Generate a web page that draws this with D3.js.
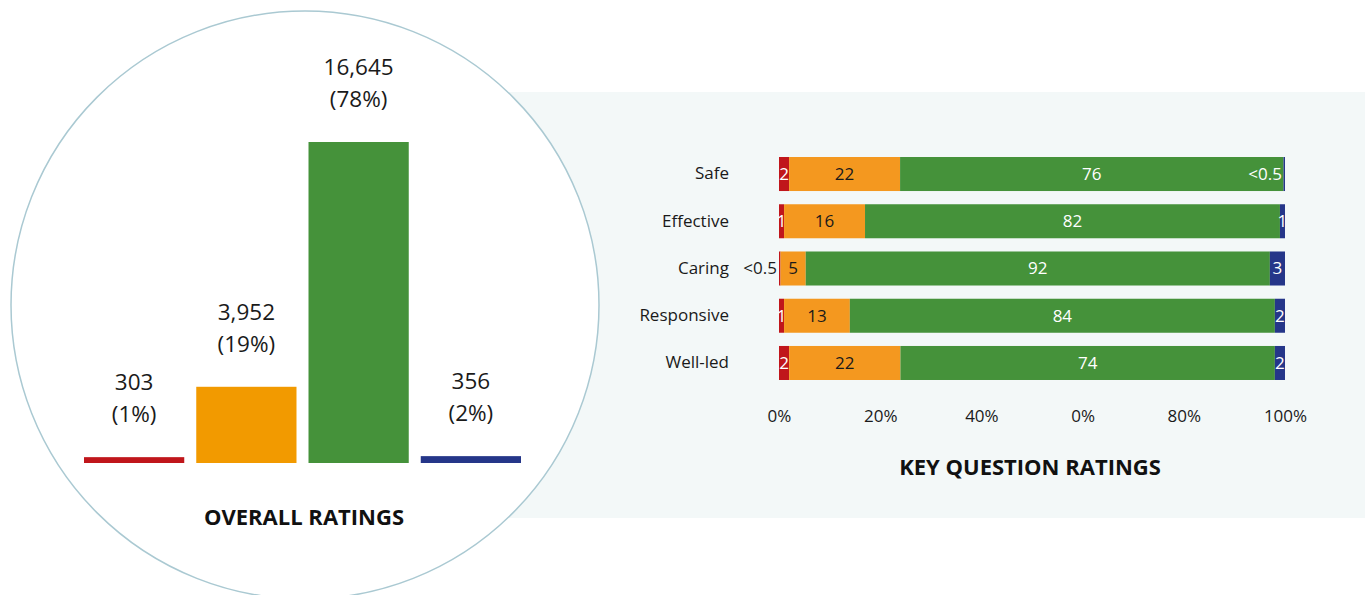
<!DOCTYPE html>
<html lang="en">
    <head>
        <meta charset="utf-8">
        <title>Overall and key question ratings</title>
        <script type="text/javascript" src="https://d3js.org/d3.v7.min.js"></script>
        <style type="text/css">
            body { margin: 0; background: #ffffff; }
            svg { display: block; font-family: "Open Sans", "Noto Sans", sans-serif; }
        </style>
    </head>
    <body>
        <script type="text/javascript">
            // Overall ratings (left, inside the circle)
            var overallCats = ["Inadequate", "Requires improvement", "Good", "Outstanding"];
            var overallCounts = [303, 3952, 16645, 356];
            var overallPct = ["1%", "19%", "78%", "2%"];

            // Key question ratings (right, stacked %)
            var questions = ["Safe", "Effective", "Caring", "Responsive", "Well-led"];
            var inadequate = [2, 1, 0.3, 1, 2];
            var requiresImprovement = [22, 16, 5, 13, 22];
            var good = [76, 82, 92, 84, 74];
            var outstanding = [0.3, 1, 3, 2, 2];

            var tickValues = [0, 0.2, 0.4, 0.6, 0.8, 1];
            var tickLabels = ["0%", "20%", "40%", "0%", "80%", "100%"];

            var colors = ["#c0161b", "#f29a00", "#45923a", "#253689"];
            var stackColors = ["#c0161b", "#f4981f", "#45923a", "#253689"];
            var keys = ["inadequate", "requiresImprovement", "good", "outstanding"];

            var w = 1370;
            var h = 595;

            var svg = d3.select("body")
                        .append("svg")
                        .attr("width", w)
                        .attr("height", h);

            // panel background for the right chart
            svg.append("rect")
                .attr("x", 400)
                .attr("y", 92)
                .attr("width", 965)
                .attr("height", 426)
                .attr("fill", "#f3f8f8");

            // big circle
            svg.append("circle")
                .attr("cx", 305)
                .attr("cy", 305)
                .attr("r", 294)
                .attr("fill", "#ffffff")
                .attr("stroke", "#aac9d2")
                .attr("stroke-width", 1.5);

            // ---- left: overall ratings ----
            var xBand = d3.scaleBand()
                .domain(overallCats)
                .range([78, 527])
                .paddingInner(0.107)
                .paddingOuter(0.0535);

            var yLin = d3.scaleLinear()
                .domain([0, d3.max(overallCounts)])
                .range([463, 142]);

            var overall = overallCats.map(function(c, i) {
                return { cat: c, count: overallCounts[i], pct: overallPct[i], color: colors[i] };
            });

            svg.selectAll("rect.overall")
                .data(overall)
                .enter()
                .append("rect")
                .attr("class", "overall")
                .attr("x", function(d) { return xBand(d.cat); })
                .attr("y", function(d) { return yLin(d.count); })
                .attr("width", xBand.bandwidth())
                .attr("height", function(d) { return yLin(0) - yLin(d.count); })
                .attr("fill", function(d) { return d.color; });

            var fmt = d3.format(",");
            var lbl = svg.selectAll("text.overall")
                .data(overall)
                .enter()
                .append("text")
                .attr("class", "overall")
                .attr("text-anchor", "middle")
                .attr("font-size", "22.5px")
                .attr("fill", "#1a1a1a");
            lbl.append("tspan")
                .attr("x", function(d) { return xBand(d.cat) + xBand.bandwidth() / 2; })
                .attr("y", function(d) { return yLin(d.count) - 67; })
                .text(function(d) { return fmt(d.count); });
            lbl.append("tspan")
                .attr("x", function(d) { return xBand(d.cat) + xBand.bandwidth() / 2; })
                .attr("y", function(d) { return yLin(d.count) - 35; })
                .text(function(d) { return "(" + d.pct + ")"; });

            svg.append("text")
                .attr("x", 304)
                .attr("y", 525)
                .attr("text-anchor", "middle")
                .attr("font-size", "22px")
                .attr("font-weight", "bold")
                .attr("fill", "#111")
                .text("OVERALL RATINGS");

            // ---- right: key question ratings ----
            var rows = questions.map(function(q, i) {
                return {
                    question: q,
                    inadequate: inadequate[i],
                    requiresImprovement: requiresImprovement[i],
                    good: good[i],
                    outstanding: outstanding[i]
                };
            });

            var series = d3.stack().keys(keys).offset(d3.stackOffsetExpand)(rows);

            var x = d3.scaleLinear().domain([0, 1]).range([779, 1285]);
            var y = d3.scaleBand()
                .domain(questions)
                .range([150.4, 386.6])
                .paddingInner(0.28)
                .paddingOuter(0.14);

            var groups = svg.selectAll("g.series")
                .data(series)
                .enter()
                .append("g")
                .attr("class", "series")
                .attr("fill", function(d, i) { return stackColors[i]; });

            groups.selectAll("rect")
                .data(function(d) { return d; })
                .enter()
                .append("rect")
                .attr("x", function(d) { return x(d[0]); })
                .attr("y", function(d) { return y(d.data.question); })
                .attr("width", function(d) { return x(d[1]) - x(d[0]); })
                .attr("height", y.bandwidth());

            // segment labels
            series.forEach(function(s, si) {
                svg.append("g").selectAll("text")
                    .data(s)
                    .enter()
                    .append("text")
                    .attr("font-size", "17px")
                    .attr("dy", "0.35em")
                    .attr("y", function(d) { return y(d.data.question) + y.bandwidth() / 2; })
                    .attr("x", function(d) {
                        var v = d.data[s.key];
                        if (v < 0.5 && si === 0) return x(d[0]) - 2;
                        if (v < 0.5) return x(d[1]) - 3;
                        return (x(d[0]) + x(d[1])) / 2;
                    })
                    .attr("text-anchor", function(d) {
                        var v = d.data[s.key];
                        return v < 0.5 ? "end" : "middle";
                    })
                    .attr("fill", function(d) {
                        var v = d.data[s.key];
                        if (v < 0.5 && si === 0) return "#1a1a1a";
                        return si === 1 ? "#1a1a1a" : "#ffffff";
                    })
                    .text(function(d) {
                        var v = d.data[s.key];
                        return v < 0.5 ? "<0.5" : v;
                    });
            });

            // axes
            var yAxis = svg.append("g")
                .attr("transform", "translate(779,0)")
                .call(d3.axisLeft(y).tickSize(0).tickPadding(50));
            yAxis.select(".domain").remove();
            yAxis.selectAll("text")
                .attr("font-size", "17px")
                .attr("font-family", "\"Open Sans\", sans-serif")
                .attr("fill", "#1a1a1a");

            var xAxis = svg.append("g")
                .attr("transform", "translate(0,390)")
                .call(d3.axisBottom(x)
                    .tickValues(tickValues)
                    .tickSize(0)
                    .tickPadding(20)
                    .tickFormat(function(d, i) { return tickLabels[i]; }));
            xAxis.select(".domain").remove();
            xAxis.selectAll("text")
                .attr("font-size", "17px")
                .attr("font-family", "\"Open Sans\", sans-serif")
                .attr("fill", "#1a1a1a");

            svg.append("text")
                .attr("x", 1030)
                .attr("y", 475)
                .attr("text-anchor", "middle")
                .attr("font-size", "22px")
                .attr("font-weight", "bold")
                .attr("fill", "#111")
                .text("KEY QUESTION RATINGS");
        </script>
    </body>
</html>
